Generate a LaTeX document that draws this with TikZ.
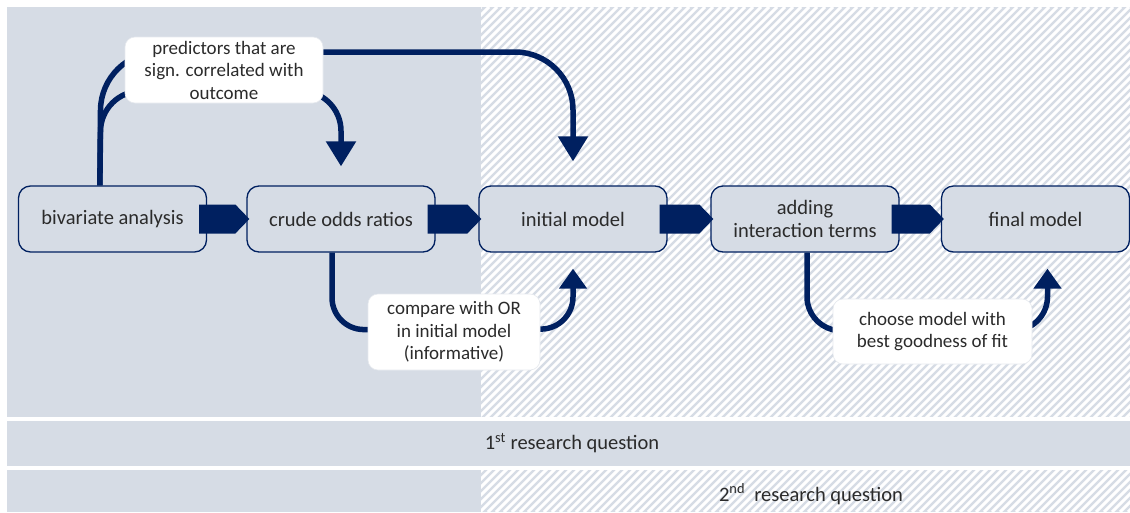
\documentclass[tikz,border=0pt]{standalone}
\usepackage{fontspec}
\setmainfont{Carlito}
\usetikzlibrary{arrows.meta,calc}
\definecolor{bg}{HTML}{D6DCE5}
\definecolor{navy}{HTML}{002060}
\definecolor{txt}{HTML}{2B2B2B}
\definecolor{calloutedge}{HTML}{E6E9EE}
\begin{document}
\begin{tikzpicture}[x=1pt,y=-1pt,
  box/.style={draw=navy, line width=1.3pt, fill=bg, rounded corners=12pt,
    minimum width=188pt, minimum height=66pt, inner sep=0pt, align=center,
    text=txt, font=\fontsize{20.5}{23}\selectfont},
  callout/.style={draw=calloutedge, line width=0.6pt, fill=white, rounded corners=10pt,
    inner sep=0pt, align=center, text=txt, font=\fontsize{19}{22.5}\selectfont},
  conn/.style={draw=navy, line width=5.5pt},
  bighead/.style={-{Triangle[width=29pt,length=25pt]}},
  smallhead/.style={-{Triangle[width=27pt,length=20pt]}},
  blockarrow/.style={fill=navy},
  bandtext/.style={text=txt, font=\fontsize{20.5}{23}\selectfont},
  hatchline/.style={draw=white, line width=3.1pt}
]
\useasboundingbox (0,0) rectangle (1130,512);
\fill[white] (0,0) rectangle (1130,512);
% bands
\fill[bg] (7,7) rectangle (1130,417);
\fill[bg] (7,421) rectangle (1130,466);
\fill[bg] (7,470) rectangle (1130,512);
\begin{scope}
  \clip (481,7) rectangle (1130,417) (481,470) rectangle (1130,512);
  \foreach \i in {-40,-32,...,1136} \draw[hatchline] (\i,512) -- ++(505,-505);
\end{scope}

% process boxes
\node[box] (biv) at (112.5,219) {bivariate analysis};
\node[box] (crude) at (341,219) {crude odds ratios};
\node[box] (initial) at (573,219) {initial model};
\node[box] (adding) at (805,219) {adding\\interaction terms};
\node[box] (final) at (1035.5,219) {final model};

% connectors
\coordinate (bivtop) at ($(biv.north west)+(82,0)$);
\draw[conn, rounded corners=58pt, bighead] (bivtop) -- (101,52) -- (initial.north |- 0,52) -- ($(initial.north)+(0,-24)$);
\draw[conn, rounded corners=40pt, bighead] (bivtop) -- (101,91) -- (crude.north |- 0,91) -- ($(crude.north)+(0,-19)$);
\draw[conn, rounded corners=32pt, smallhead] ($(crude.south)+(-9,0)$) -- ++(0,77) -- (initial.south |- 0,329) -- ($(initial.south)+(0,16)$);
\draw[conn, rounded corners=34pt, smallhead] ($(adding.south)+(2,0)$) -- ++(0,78) -- ($(final.south)+(12,78)$) -- ($(final.south)+(12,16)$);

% callouts
\node[callout, minimum width=198pt, minimum height=66pt] (pred) at (224,70) {predictors that are\\sign. correlated with\\outcome};
\node[callout, minimum width=172pt, minimum height=76pt] (cmp) at (454,332) {compare with OR\\in initial model\\(informative)};
\node[callout, minimum width=199pt, minimum height=65pt] (choose) at (932.5,331.5) {choose model with\\best goodness of fit};

% block arrows
\foreach \a/\b in {biv/crude, crude/initial, initial/adding, adding/final}
  \fill[blockarrow] ($(\a.east)+(-8,-14.5)$) -- ($(\b.west)+(-11,-14.5)$) -- ($(\b.west)+(3,0)$)
    -- ($(\b.west)+(-11,14.5)$) -- ($(\a.east)+(-8,14.5)$) -- cycle;

% band labels
\node[bandtext] (rq1) at (572,443) {1\textsuperscript{st} research question};
\node[bandtext] (rq2) at (811,494) {2\textsuperscript{nd}\ \ research question};
\end{tikzpicture}
\end{document}
